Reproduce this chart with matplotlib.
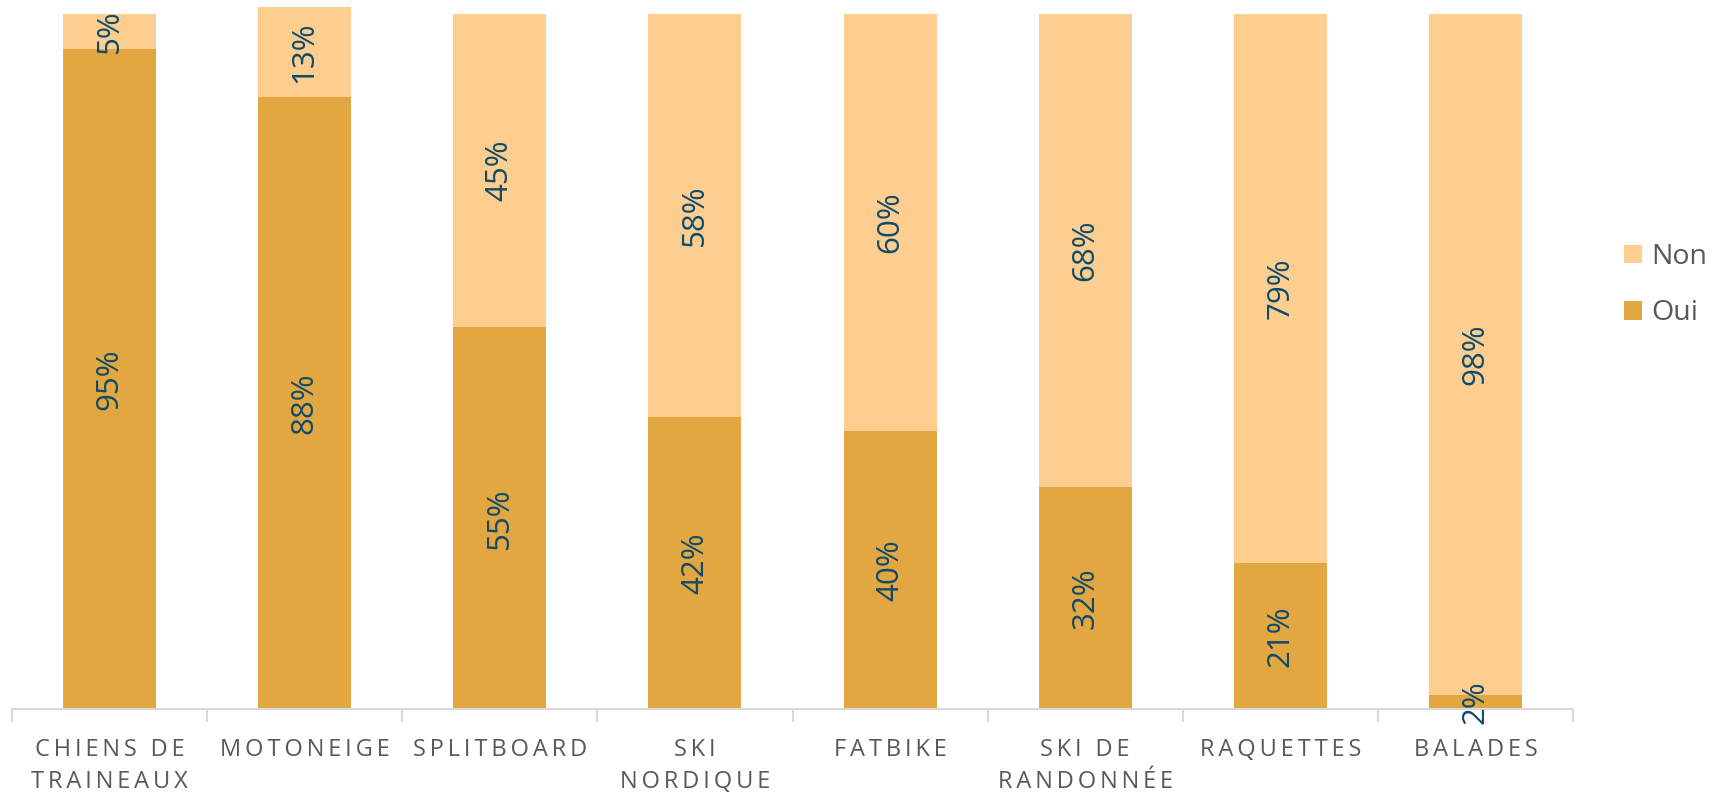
import matplotlib.pyplot as plt
import numpy as np

categories = ["CHIENS DE\nTRAINEAUX", "MOTONEIGE", "SPLITBOARD", "SKI\nNORDIQUE",
              "FATBIKE", "SKI DE\nRANDONNÉE", "RAQUETTES", "BALADES"]
oui = [95, 88, 55, 42, 40, 32, 21, 2]
non = [5, 13, 45, 58, 60, 68, 79, 98]

col_oui = "#E2A740"
col_non = "#FDCE8F"
col_lbl = "#0E4A6A"
col_txt = "#595959"
col_axis = "#D9D9D9"

plt.rcParams["font.family"] = ["Open Sans", "DejaVu Sans"]


def spaced(s):
    # widen letter spacing with thin spaces
    return "\n".join("\u2009".join(line) for line in s.split("\n"))


fig = plt.figure(figsize=(17.16, 7.96), dpi=100)
ax = fig.add_axes([12 / 1716, 1 - 709 / 796, (1573 - 12) / 1716, (709 - 7) / 796])

x = np.arange(len(categories))
w = 0.477
b_oui = ax.bar(x, oui, w, color=col_oui, label="Oui", zorder=2)
b_non = ax.bar(x, non, w, bottom=oui, color=col_non, label="Non", zorder=2)

for i in range(len(categories)):
    ax.text(x[i], oui[i] / 2, f"{oui[i]}%", rotation=90, ha="center", va="center",
            fontsize=22.5, color=col_lbl, zorder=3)
    ax.text(x[i], oui[i] + non[i] / 2, f"{non[i]}%", rotation=90, ha="center", va="center",
            fontsize=22.5, color=col_lbl, zorder=3)

ax.set_xlim(-0.5, len(categories) - 0.5)
ax.set_ylim(0, 101)
ax.set_yticks([])
for s in ["top", "right", "left"]:
    ax.spines[s].set_visible(False)
ax.spines["bottom"].set_color(col_axis)
ax.spines["bottom"].set_linewidth(1.5)

# category boundary ticks
ax.set_xticks(np.arange(len(categories) + 1) - 0.5, minor=False)
ax.set_xticklabels([])
ax.tick_params(axis="x", length=9, width=1.5, color=col_axis)
ax.set_xticks(x, minor=True)
ax.set_xticklabels([spaced(c) for c in categories], minor=True, fontsize=17,
                   color=col_txt, linespacing=1.42, va="top")
ax.tick_params(axis="x", which="minor", length=0, pad=21)

leg = fig.legend(handles=[b_non, b_oui], labels=["Non", "Oui"], loc="upper left",
                 bbox_to_anchor=(1624 / 1716, 1 - 243 / 796), frameon=False, fontsize=20.5,
                 handlelength=0.62, handleheight=0.62, handletextpad=0.35,
                 labelspacing=1.0, borderpad=0, borderaxespad=0)
for t in leg.get_texts():
    t.set_color(col_txt)

fig.savefig("out.png", dpi=100)
